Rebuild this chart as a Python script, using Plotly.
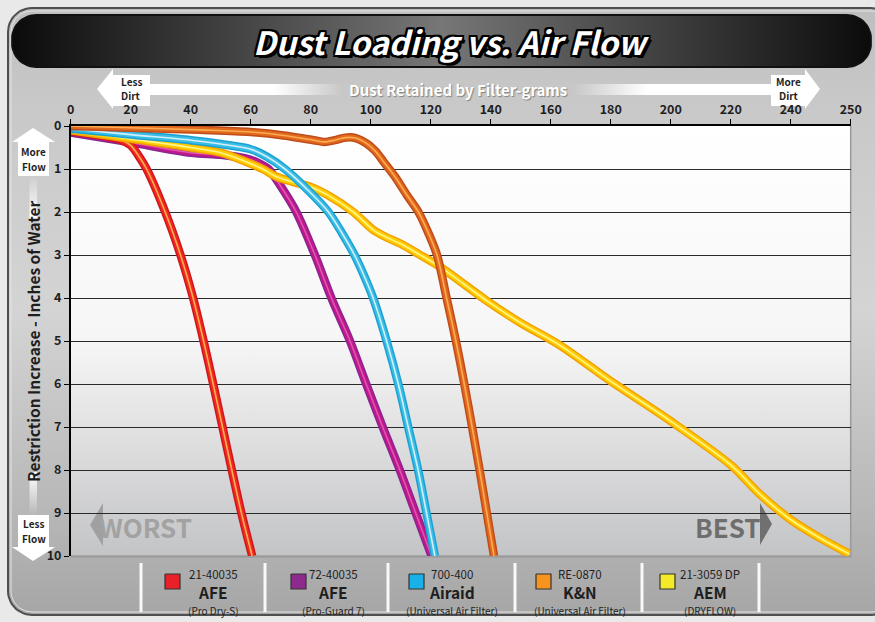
import numpy as np
import plotly.graph_objects as go

# ---------------- data ----------------
x_ticks = [0, 20, 40, 60, 80, 100, 120, 140, 160, 180, 200, 220, 240, 260]
x_ticktext = ["0", "20", "40", "60", "80", "100", "120", "140", "160", "180", "200", "220", "240", "250"]
y_ticks = [0, 1, 2, 3, 4, 5, 6, 7, 8, 9, 10]

afe_dry_x = [0, 10, 17, 20, 22.5, 25.3, 31.5, 36.6, 40.8, 44.3, 47.5, 50.6, 53.7, 56.9, 60.5]
afe_dry_y = [0.12, 0.22, 0.33, 0.45, 0.68, 1.0, 2.0, 3.0, 4.0, 5.0, 6.0, 7.0, 8.0, 9.0, 10.0]

afe_pg7_x = [0, 20, 40, 50, 58, 62, 65.9, 70, 75.2, 81.4, 86.9, 93.1, 98.5, 104.0, 109.7, 115.0, 120.3]
afe_pg7_y = [0.15, 0.38, 0.62, 0.67, 0.75, 0.84, 1.0, 1.4, 2.0, 3.0, 4.0, 5.0, 6.0, 7.0, 8.0, 9.0, 10.0]

airaid_x = [0, 20, 40, 50, 60, 65.3, 71.4, 79.2, 85.9, 90.5, 94.6, 97.9, 100.8, 105.3, 109.2, 112.5, 115.8, 118.6, 121.4]
airaid_y = [0.06, 0.2, 0.33, 0.42, 0.54, 0.71, 1.0, 1.5, 2.0, 2.5, 3.0, 3.5, 4.0, 5.0, 6.0, 7.0, 8.0, 9.0, 10.0]

kn_x = [0, 20, 43, 60, 71, 81, 84.5, 88, 91.5, 95, 98.7, 101.5, 104.5, 108, 112, 115.9, 119.3, 122.1,
        125.3, 128.4, 131.2, 133.8, 136.3, 138.7, 141.1]
kn_y = [0.0, 0.04, 0.09, 0.14, 0.22, 0.33, 0.37, 0.33, 0.27, 0.28, 0.41, 0.58, 0.85, 1.17, 1.6, 2.0, 2.5, 3.0,
        4.0, 5.0, 6.0, 7.0, 8.0, 9.0, 10.0]

aem_x = [0, 20, 40, 50, 58, 64, 68.6, 74, 79.8, 86, 94.2, 100.9, 105, 110, 116, 123, 139, 149.8, 163.1,
         179.7, 199.7, 220.3, 229.7, 239.7, 249.7, 259.5]
aem_y = [0.1, 0.3, 0.5, 0.62, 0.82, 1.0, 1.18, 1.3, 1.41, 1.62, 2.0, 2.42, 2.58, 2.74, 2.98, 3.27, 4.08, 4.57, 5.1,
         5.92, 6.85, 7.9, 8.56, 9.14, 9.58, 9.95]

legend_codes = ["21-40035", "72-40035", "700-400", "RE-0870", "21-3059 DP"]
legend_brands = ["AFE", "AFE", "Airaid", "K&N", "AEM"]
legend_notes = ["(Pro Dry-S)", "(Pro-Guard 7)", "(Universal Air Filter)", "(Universal Air Filter)", "(DRYFLOW)"]
legend_colors = ["#e8202a", "#8e2a8e", "#1ab0e8", "#f7941d", "#f5ea2a"]

# ---------------- styling ----------------
W, H = 875, 622
FONT = "Noto Sans CJK SC, Roboto, Liberation Sans, sans-serif"
DARK = "#1e1e1e"

fig = go.Figure()


def rrect(x0, y0, x1, y1, r, n=14):
    xs, ys = [], []
    for cx, cy, a0, a1 in [(x1 - r, y0 + r, -90, 0), (x1 - r, y1 - r, 0, 90),
                           (x0 + r, y1 - r, 90, 180), (x0 + r, y0 + r, 180, 270)]:
        a = np.radians(np.linspace(a0, a1, n))
        xs += list(cx + r * np.cos(a))
        ys += list(cy + r * np.sin(a))
    return xs + [xs[0]], ys + [ys[0]]


def rect(x0, y0, x1, y1):
    return [x0, x1, x1, x0, x0], [y0, y0, y1, y1, y0]


def deco(xs, ys, color=None, grad=None, lw=0, lc="rgba(0,0,0,0)", fill="toself"):
    kw = dict(x=xs, y=ys, mode="lines", fill=fill, line=dict(width=lw, color=lc),
              xaxis="x", yaxis="y", hoverinfo="skip", showlegend=False)
    if grad is not None:
        kw["fillgradient"] = grad
    elif color is not None:
        kw["fillcolor"] = color
    fig.add_trace(go.Scatter(**kw))


# outer frame panel
fx, fy = rrect(8, 8, 895, 615, 24)
deco(fx, fy, grad=dict(type="vertical", colorscale=[[0, "#a6a6a6"], [0.18, "#b8b8b8"], [0.5, "#d4d4d4"],
                                                      [0.85, "#c8c8c8"], [1, "#bebebe"]]),
     lw=2, lc="#4f4f4f")
ix, iy = rrect(11, 11, 892, 612, 21)
deco(ix, iy, lw=1, lc="#e4e4e4", fill="none")

# title bar
tx, ty = rrect(12, 15, 871, 67, 24)
deco(tx, ty, grad=dict(type="horizontal", colorscale=[[0, "#0b0b0b"], [0.5, "#777777"], [1, "#0b0b0b"]]),
     lw=2, lc="#111111")

# top axis arrow bar
deco([97, 113, 113, 97], [89, 69, 109, 89], color="white")
deco([820, 805, 805, 820], [89, 69, 109, 89], color="white")
deco(*rect(112, 75, 150, 106), color="white")
deco(*rect(771, 75, 806, 106), color="white")
deco(*rect(150, 84, 771, 95), grad=dict(type="horizontal", colorscale=[
    [0, "white"], [0.2, "white"], [0.31, "rgba(255,255,255,0)"], [0.68, "rgba(255,255,255,0)"],
    [0.8, "white"], [1, "white"]]))

# left axis arrow column
deco([33, 12, 55, 33], [128, 142, 142, 128], color="white")
deco(*rect(18, 142, 49, 176), color="white")
deco(*rect(29.5, 176, 37, 218), grad=dict(type="vertical", colorscale=[[0, "white"], [1, "rgba(255,255,255,0)"]]))
deco(*rect(29.5, 472, 37, 515), grad=dict(type="vertical", colorscale=[[0, "rgba(255,255,255,0)"], [1, "white"]]))
deco(*rect(18, 515, 49, 547), color="white")
deco([12, 55, 33, 12], [547, 547, 561, 547], color="white")

# plot background
deco(*rect(70.7, 126, 850.7, 556), grad=dict(type="vertical", colorscale=[
    [0, "#c3c4c6"], [0.3, "#e2e2e3"], [0.5, "#f6f6f6"], [1, "#ffffff"]]))
deco([850.7, 850.7], [126, 556], lw=1.5, lc="#9a9a9a", fill="none")
deco([70.7, 851.5], [556.5, 556.5], lw=2.5, lc="#9c9c9c", fill="none")

# WORST / BEST arrows
deco([90, 103, 103, 90], [525, 503, 546, 525], color="#a0a0a0")
deco([772, 760, 760, 772], [524, 503, 545, 524], color="#707070")

# legend separators
sep_x = [141, 265, 388, 515, 642, 759]
sx, sy = [], []
for s in sep_x:
    sx += [s, s, None]
    sy += [563, 612, None]
deco(sx, sy, lw=3, lc="rgba(255,255,255,0.92)", fill="none")

# legend swatches and labels
sw_x = [165, 291, 409, 536, 660]
txt_x = [213, 333, 452, 580, 710]
ann = []
for i in range(5):
    deco(*rect(sw_x[i], 574, sw_x[i] + 15, 589), color=legend_colors[i], lw=1.2, lc="#333333")
    ann.append(dict(x=txt_x[i], y=573.5, text=legend_codes[i], font=dict(size=11.5, color=DARK, family=FONT)))
    ann.append(dict(x=txt_x[i], y=591.5, text="<b>" + legend_brands[i].replace("&", "&amp;") + "</b>",
                    font=dict(size=15.5, color=DARK, family=FONT)))
    ann.append(dict(x=txt_x[i], y=610, text=legend_notes[i], font=dict(size=10, color=DARK, family=FONT)))

# ---------------- data curves ----------------
series = [
    (afe_pg7_x, afe_pg7_y, "#8a2592", "#c4168c", "#d85aae"),
    (afe_dry_x, afe_dry_y, "#d4141c", "#ee2a24", "#ffb04a"),
    (aem_x, aem_y, "#f2a000", "#ffcc00", "#fff48a"),
    (airaid_x, airaid_y, "#1aa2d2", "#3cbde6", "#d2f0fa"),
    (kn_x, kn_y, "#bf4c1a", "#e0691e", "#ffab52"),
]
for xs, ys, c_out, c_mid, c_hi in series:
    for w, c in [(8.5, c_out), (5.5, c_mid), (1.6, c_hi)]:
        fig.add_trace(go.Scatter(x=xs, y=ys, mode="lines", xaxis="x2", yaxis="y2",
                                 line=dict(color=c, width=w, shape="spline", smoothing=0.9),
                                 hoverinfo="skip", showlegend=False))

# ---------------- text ----------------
outline = ", ".join(f"{dx}px {dy}px 0 #000" for dx, dy in
                    [(-2, -2), (2, -2), (-2, 2), (2, 2), (0, 2), (0, -2), (2, 0), (-2, 0), (3, 3)])
small = dict(size=10, color=DARK, family=FONT, weight="bold")
ann += [
    dict(x=451, y=41, text="<b><i>Dust Loading vs. Air Flow</i></b>",
         font=dict(size=32, color="white", family=FONT, shadow=outline)),
    dict(x=458, y=89, text="<b>Dust Retained by Filter-grams</b>",
         font=dict(size=15, color="white", family=FONT, shadow="1px 1px 1px rgba(0,0,0,0.35)")),
    dict(x=131, y=81, text="Less", font=small),
    dict(x=131, y=95.3, text="Dirt", font=small),
    dict(x=788.5, y=81, text="More", font=small),
    dict(x=788.5, y=95.3, text="Dirt", font=small),
    dict(x=33.5, y=151.5, text="More", font=small),
    dict(x=33.5, y=166, text="Flow", font=small),
    dict(x=33.5, y=523.5, text="Less", font=small),
    dict(x=33.5, y=538, text="Flow", font=small),
    dict(x=33, y=341, text="<b>Restriction Increase - Inches of Water</b>", textangle=-90,
         font=dict(size=15.5, color=DARK, family=FONT)),
    dict(x=145, y=526, text="<b>WORST</b>", font=dict(size=26, color="#a2a2a2", family=FONT)),
    dict(x=727.5, y=526, text="<b>BEST</b>", font=dict(size=26, color="#6e6e6e", family=FONT)),
]
for a in ann:
    a.update(xref="x", yref="y", showarrow=False, xanchor="center", yanchor="middle", borderpad=0)

# ---------------- layout ----------------
fig.update_layout(
    width=W, height=H,
    margin=dict(l=0, r=0, t=0, b=0, pad=0, autoexpand=False),
    paper_bgcolor="#e9e9e9",
    plot_bgcolor="rgba(0,0,0,0)",
    showlegend=False,
    annotations=ann,
    xaxis=dict(domain=[0, 1], range=[0, W], visible=False, fixedrange=True, automargin=False),
    yaxis=dict(domain=[0, 1], range=[H, 0], visible=False, fixedrange=True, automargin=False),
    xaxis2=dict(domain=[70.7 / W, 850.7 / W], range=[0, 260], anchor="y2", side="top", automargin=False,
                tickvals=x_ticks, ticktext=x_ticktext, ticks="outside", ticklen=5, tickwidth=1.2,
                tickcolor="black", showline=True, linecolor="black", linewidth=1.5,
                showgrid=False, zeroline=False, fixedrange=True,
                tickfont=dict(size=12.5, color=DARK, family=FONT, weight="bold")),
    yaxis2=dict(domain=[1 - 556 / H, 1 - 126 / H], range=[10, 0], anchor="x2", automargin=False,
                tickvals=y_ticks, ticks="outside", ticklen=5, tickwidth=1.2, tickcolor="black",
                showline=True, linecolor="black", linewidth=1.5, fixedrange=True,
                showgrid=True, gridcolor="#2a2a2a", gridwidth=1.4, zeroline=False,
                tickfont=dict(size=12.5, color=DARK, family=FONT, weight="bold")),
)

fig.write_html("out.html", config={"displayModeBar": False},
               post_script="document.body.style.margin='0';")
